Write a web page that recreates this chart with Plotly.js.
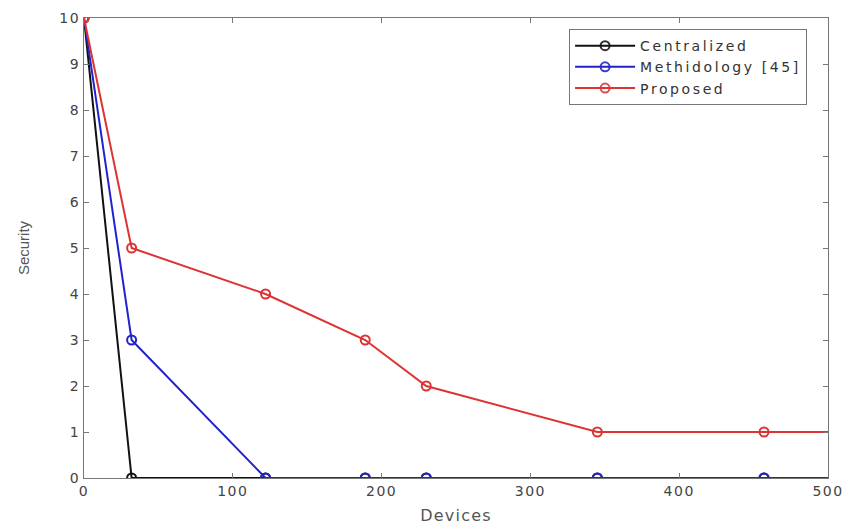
<!DOCTYPE html>
<html>
<head>
<meta charset="utf-8">
<script src="https://cdn.plot.ly/plotly-3.0.1.min.js"></script>
<style>
html,body{margin:0;padding:0;background:#fff;}
#chart{width:851px;height:529px;}
.xtick text, .ytick text{letter-spacing:1.5px;}
.legendtext{letter-spacing:2.6px;}
.xtitle{letter-spacing:1.2px;}
</style>
</head>
<body>
<div id="chart"></div>
<script>
const devices = [0, 32, 122, 189, 230, 345, 457, 500];
const centralized = [10, 0, 0, 0, 0, 0, 0, 0];
const methodology = [10, 3, 0, 0, 0, 0, 0, 0];
const proposed = [10, 5, 4, 3, 2, 1, 1, 1];
const seriesNames = ['Centralized', 'Methidology [45]', 'Proposed'];
const xTicks = [0, 100, 200, 300, 400, 500];
const yTicks = [0, 1, 2, 3, 4, 5, 6, 7, 8, 9, 10];

const colors = ['#111111', '#2222cc', '#dd3333'];
const markerOpacity = devices.map((d, i) => i === devices.length - 1 ? 0 : 1);
function trace(y, name, color) {
  return {
    x: devices, y: y, name: name, type: 'scatter', mode: 'lines+markers',
    line: {color: color, width: 2},
    marker: {symbol: 'circle-open', size: 9, color: color, line: {width: 2, color: color}, opacity: markerOpacity}
  };
}
const data = [
  trace(centralized, seriesNames[0], colors[0]),
  trace(methodology, seriesNames[1], colors[1]),
  trace(proposed, seriesNames[2], colors[2])
];

const fam = 'DejaVu Sans, Liberation Sans, Arial, sans-serif';
const axisCommon = {
  showline: true, mirror: 'ticks', linecolor: '#777', linewidth: 1,
  ticks: 'inside', ticklen: 5, tickcolor: '#777', showgrid: false, zeroline: false,
  tickfont: {family: fam, size: 14, color: '#444'}
};
const layout = {
  width: 851, height: 529,
  margin: {l: 84, r: 23, t: 18, b: 51},
  paper_bgcolor: '#fff', plot_bgcolor: '#fff',
  font: {family: fam, color: '#444'},
  xaxis: Object.assign({}, axisCommon, {
    range: [0, 500], tickvals: xTicks, ticktext: xTicks.map(String),
    title: {text: 'Devices', font: {size: 16, color: '#555'}, standoff: 12}
  }),
  yaxis: Object.assign({}, axisCommon, {
    range: [0, 10], tickvals: yTicks, ticktext: yTicks.map(String),
    title: {text: 'Security', font: {family: 'Liberation Sans, Arial, sans-serif', size: 15, color: '#555'}, standoff: 26}
  }),
  showlegend: true,
  legend: {
    x: 0.652, y: 0.976, xanchor: 'left', yanchor: 'top',
    bgcolor: '#fff', bordercolor: '#777', borderwidth: 1,
    font: {family: fam, size: 14, color: '#333'},
    tracegroupgap: 0, itemwidth: 60, traceorder: 'normal'
  }
};
Plotly.newPlot('chart', data, layout, {displayModeBar: false, staticPlot: true});
</script>
</body>
</html>
